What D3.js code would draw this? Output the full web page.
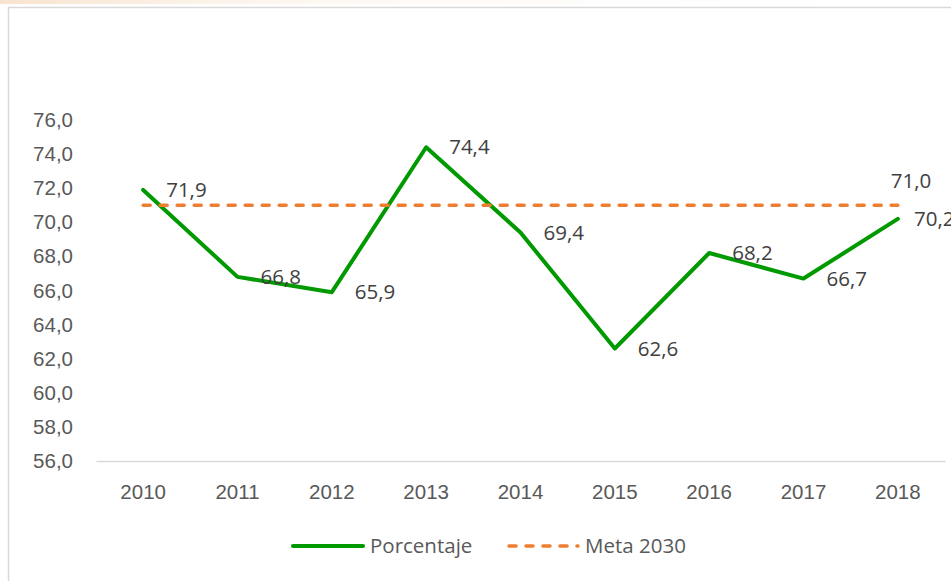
<!DOCTYPE html>
<html>
<head>
<meta charset="utf-8">
<script src="https://cdn.jsdelivr.net/npm/d3@7"></script>
<style>
  html, body { margin: 0; padding: 0; background: #fff; }
  svg { display: block; font-family: "Open Sans", "Liberation Sans", sans-serif; }
</style>
</head>
<body>
<svg id="chart" width="951" height="581"></svg>
<script>
// Series data
const years = ["2010", "2011", "2012", "2013", "2014", "2015", "2016", "2017", "2018"];
const porcentaje = [71.9, 66.8, 65.9, 74.4, 69.4, 62.6, 68.2, 66.7, 70.2];
const meta2030 = [71.0, 71.0, 71.0, 71.0, 71.0, 71.0, 71.0, 71.0, 71.0];
const yTicks = [56, 58, 60, 62, 64, 66, 68, 70, 72, 74, 76];
const seriesNames = ["Porcentaje", "Meta 2030"];

const GREEN = "#009900";
const ORANGE = "#ED7D31";
const FONT_SIZE = "20.5px";
const LABEL_MAX_X = 914; // labels are nudged left so they stay near the chart edge
const fmt = v => d3.format(".1f")(v).replace(".", ",");

const svg = d3.select("#chart");

// faint warm strip along the top edge
const defs = svg.append("defs");
const grad = defs.append("linearGradient").attr("id", "topfade");
grad.append("stop").attr("offset", "0%").attr("stop-color", "#f6dcc2").attr("stop-opacity", 0.8);
grad.append("stop").attr("offset", "30%").attr("stop-color", "#fbeee0").attr("stop-opacity", 0.5);
grad.append("stop").attr("offset", "100%").attr("stop-color", "#ffffff").attr("stop-opacity", 0);
svg.append("rect").attr("x", 0).attr("y", 0).attr("width", 951).attr("height", 4).attr("fill", "url(#topfade)");

// chart area border
svg.append("rect")
  .attr("x", 8.5).attr("y", 7.5).attr("width", 960).attr("height", 600)
  .attr("fill", "#fff").attr("stroke", "#D9D9D9").attr("stroke-width", 1.5);

const x = d3.scaleBand().domain(years).range([96, 945]);
const y = d3.scaleLinear().domain([56, 76]).range([461, 120]);
const cx = d => x(d) + x.bandwidth() / 2;

// Y axis labels (no axis line)
const yAxis = d3.axisLeft(y).tickValues(yTicks).tickFormat(fmt).tickSize(0).tickPadding(0);
const yg = svg.append("g").attr("transform", "translate(73,0)").call(yAxis);
yg.select(".domain").remove();
yg.selectAll("text").attr("fill", "#595959").style("font-size", FONT_SIZE).style("font-family", "inherit");

// X axis
const xAxis = d3.axisBottom(x).tickSize(0).tickPadding(23);
const xg = svg.append("g").attr("transform", "translate(0,461)").call(xAxis);
xg.select(".domain").attr("stroke", "#D9D9D9").attr("stroke-width", 1.5);
xg.selectAll("text").attr("fill", "#595959").style("font-size", FONT_SIZE).style("font-family", "inherit");

const line = d3.line().x((d, i) => cx(years[i])).y(d => y(d));

// Porcentaje series
svg.append("path").datum(porcentaje)
  .attr("d", line).attr("fill", "none")
  .attr("stroke", GREEN).attr("stroke-width", 4)
  .attr("stroke-linejoin", "round").attr("stroke-linecap", "round");

// Meta 2030 series
svg.append("path").datum(meta2030)
  .attr("d", line).attr("fill", "none")
  .attr("stroke", ORANGE).attr("stroke-width", 3.5)
  .attr("stroke-dasharray", "7,10").attr("stroke-linecap", "round");

// Data labels for Porcentaje (right of point)
svg.append("g").selectAll("text").data(porcentaje).join("text")
  .attr("x", (d, i) => Math.min(cx(years[i]) + 23, LABEL_MAX_X))
  .attr("y", d => y(d))
  .attr("dy", "0.35em")
  .attr("fill", "#404040").style("font-size", FONT_SIZE)
  .text(d => fmt(d));

// Data label for the last Meta 2030 point (above)
const last = meta2030.length - 1;
svg.append("text")
  .attr("x", cx(years[last]) - 7)
  .attr("y", y(meta2030[last]) - 24)
  .attr("dy", "0.35em")
  .attr("fill", "#404040").style("font-size", FONT_SIZE)
  .text(fmt(meta2030[last]));

// Legend
const legend = svg.append("g");
const legendItems = [
  { name: seriesNames[0], color: GREEN, x1: 293, x2: 363, tx: 370, dash: null, w: 4 },
  { name: seriesNames[1], color: ORANGE, x1: 509, x2: 578, tx: 585, dash: "7,10", w: 3.5 }
];
legendItems.forEach(it => {
  legend.append("line")
    .attr("x1", it.x1).attr("x2", it.x2).attr("y1", 546).attr("y2", 546)
    .attr("stroke", it.color).attr("stroke-width", it.w)
    .attr("stroke-linecap", "round")
    .attr("stroke-dasharray", it.dash);
  legend.append("text")
    .attr("x", it.tx).attr("y", 546).attr("dy", "0.35em")
    .attr("fill", "#595959").style("font-size", FONT_SIZE)
    .text(it.name);
});
</script>
</body>
</html>
